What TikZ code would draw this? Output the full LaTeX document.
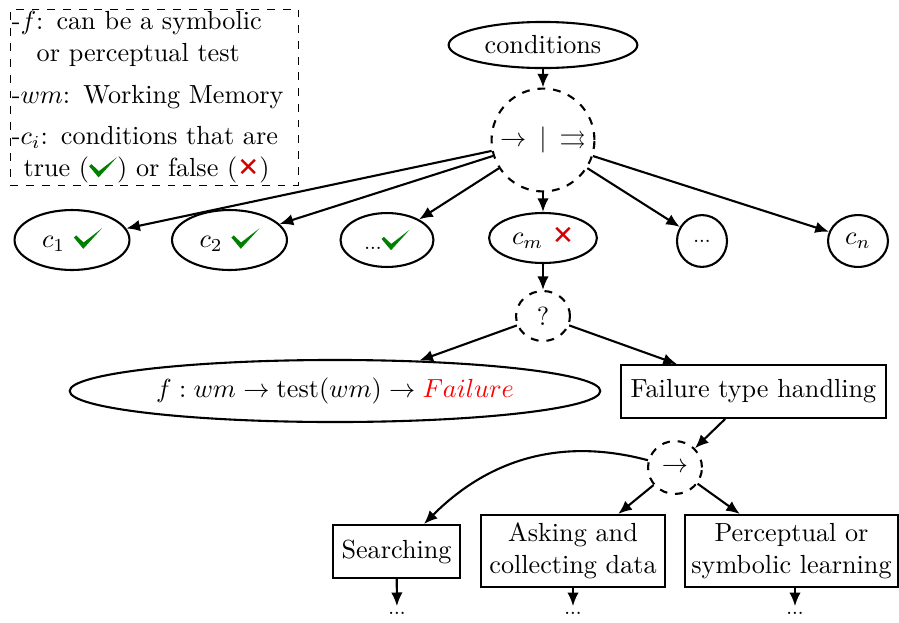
\documentclass[tikz,border=0pt]{standalone}
\usepackage{amsmath,amssymb}
\usepackage{fontspec}
\newfontfamily\symfont{DejaVu Sans}
\usetikzlibrary{arrows.meta,shapes.geometric}
\definecolor{okgreen}{RGB}{0,128,0}
\definecolor{kored}{RGB}{210,0,0}
\newcommand{\okmark}{\tikz[baseline=0pt]\fill[okgreen] (0pt,3.9pt) -- (0.9pt,4.7pt) -- (3.7pt,2.0pt) -- (10.7pt,7.4pt) -- (3.6pt,-0.4pt) -- cycle;}
\newcommand{\komark}{\textcolor{kored}{\symfont ✕}}
\newcommand{\tdots}{{\tiny\bfseries ...}}
\begin{document}
\begin{tikzpicture}[x=0.382pt,y=-0.382pt, >={Latex[length=5.2pt,width=4.4pt]},
  ell/.style={draw, thick, ellipse, inner sep=0pt},
  dcirc/.style={draw, thick, dashed, ellipse, inner sep=0pt},
  box/.style={draw, thick, rectangle, inner sep=2pt, align=center},
  arr/.style={->, thick},
  dots/.style={inner sep=2pt}]
\useasboundingbox (0,0) rectangle (899,623);

% legend
\node[draw, thin, dashed, anchor=north west, align=left, text width=109pt,
      inner xsep=0.5pt, inner ysep=0.8pt] (legend) at (10,9)
 {-$f$: can be a symbolic\\
  \hspace*{9.5pt}or perceptual test\\[4pt]
  -$wm$: Working Memory\\[4pt]
  -$c_i$: conditions that are\\
  \hspace*{4.5pt}true (\okmark) or false (\komark)};

\node[ell, minimum width=72.1pt, minimum height=17.6pt] (cond) at (543,45) {conditions};
\node[dcirc, minimum width=39.3pt, minimum height=39.3pt] (sel) at (543,140)
  {\makebox[0pt][c]{$\rightarrow\mkern4mu|\mkern4mu\rightrightarrows$}};

\node[ell, minimum width=43.9pt, minimum height=22.9pt] (c1) at (72,240) {$c_1$ \okmark};
\node[ell, minimum width=43.9pt, minimum height=22.9pt] (c2) at (229.5,240) {$c_2$ \okmark};
\node[ell, minimum width=35.5pt, minimum height=20.6pt] (cd) at (387,240) {\tdots\okmark};
\node[ell, minimum width=41.2pt, minimum height=19.1pt] (cm) at (543,238) {$c_m$ \komark};
\node[ell, minimum width=19.1pt, minimum height=19.8pt] (cdots) at (702,241) {\tdots};
\node[ell, minimum width=22.9pt, minimum height=19.8pt] (cn) at (858,241) {$c_n$};

\node[dcirc, minimum width=20.6pt, minimum height=19.1pt] (q) at (543,316) {?};
\node[ell, minimum width=202.7pt, minimum height=23.7pt] (f) at (335,391)
  {$f: wm \rightarrow \text{test}(wm) \rightarrow {\color{red}Failure}$};
\node[box, minimum width=101.1pt, minimum height=20.2pt] (fth) at (753.5,391.5) {Failure type handling};

\node[dcirc, minimum width=20.6pt, minimum height=20.2pt] (seq) at (675,467.5) {$\rightarrow$};
\node[box, minimum width=48.5pt, minimum height=20.2pt] (srch) at (396.5,551.5) {Searching};
\node[box, minimum width=70.2pt, minimum height=27.5pt] (ask) at (573,551) {Asking and\\collecting data};
\node[box, minimum width=81.3pt, minimum height=27.5pt] (perc) at (791.5,551) {Perceptual or\\symbolic learning};

\node[dots] (d1) at (397,613) {\tdots};
\node[dots] (d2) at (573,613) {\tdots};
\node[dots] (d3) at (795,613) {\tdots};

\draw[arr] (cond) -- (sel);
\foreach \t in {c1,c2,cd,cm,cdots,cn} \draw[arr] (sel) -- (\t);
\draw[arr] (cm) -- (q);
\draw[arr] (q) -- (f);
\draw[arr] (q) -- (fth);
\draw[arr] (fth) -- (seq);
\draw[arr] (seq) to[out=165,in=45] (srch);
\draw[arr] (seq) -- (ask);
\draw[arr] (seq) -- (perc);
\draw[arr] (srch) -- (d1);
\draw[arr] (ask) -- (d2);
\draw[arr] (perc.south -| d3) -- (d3);
\end{tikzpicture}
\end{document}
